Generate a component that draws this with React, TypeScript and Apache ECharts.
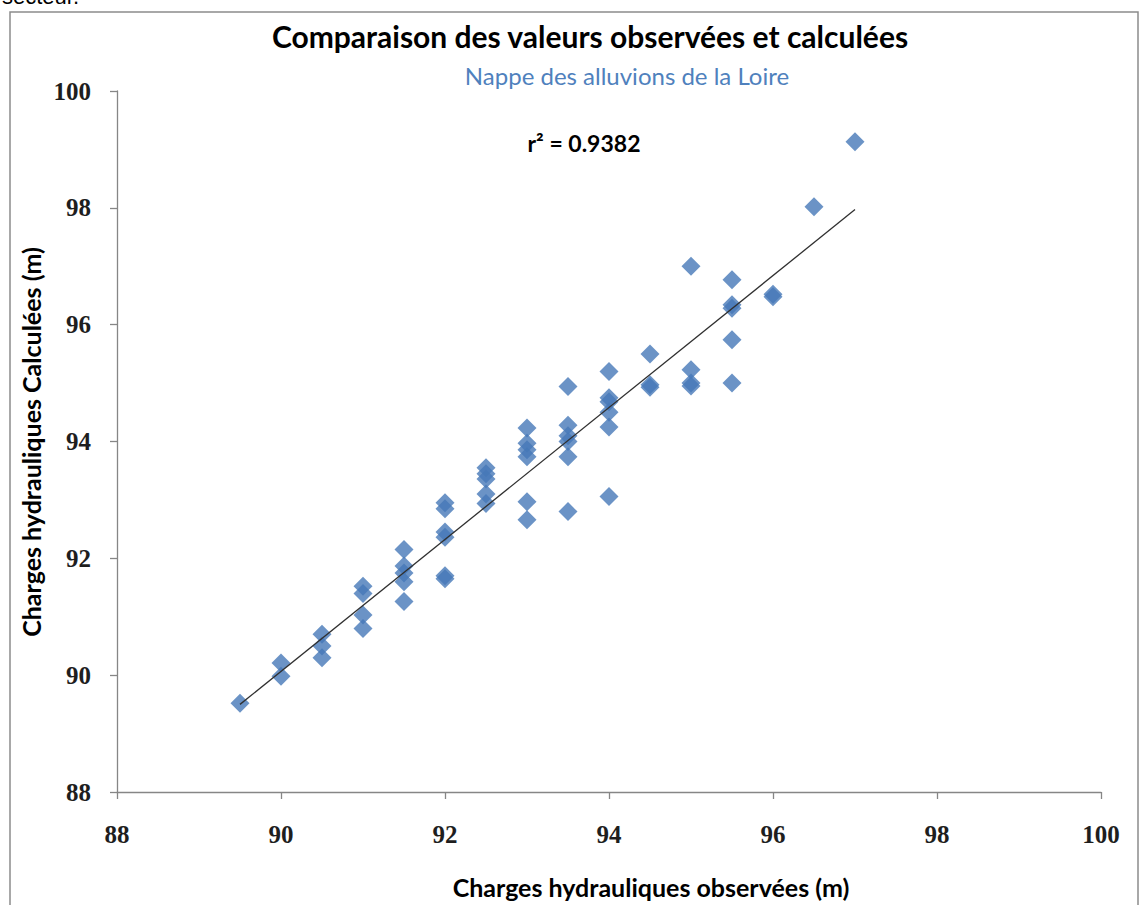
import React, { useEffect, useRef } from "react";
import * as echarts from "echarts";

const observed: number[] = [
  89.5,
  90, 90,
  90.5, 90.5, 90.5,
  91, 91, 91, 91,
  91.5, 91.5, 91.5, 91.5, 91.5,
  92, 92, 92, 92, 92, 92,
  92.5, 92.5, 92.5, 92.5, 92.5,
  93, 93, 93, 93, 93, 93,
  93.5, 93.5, 93.5, 93.5, 93.5, 93.5,
  94, 94, 94, 94, 94, 94,
  94.5, 94.5, 94.5,
  95, 95, 95, 95,
  95.5, 95.5, 95.5, 95.5, 95.5,
  96, 96,
  96.5,
  97,
];
const calculated: number[] = [
  89.52,
  90.21, 89.98,
  90.7, 90.5, 90.3,
  91.52, 91.4, 91.03, 90.8,
  92.15, 91.87, 91.75, 91.6, 91.26,
  92.95, 92.85, 92.45, 92.36, 91.7, 91.65,
  93.55, 93.45, 93.36, 93.1, 92.94,
  94.23, 93.97, 93.86, 93.74, 92.97, 92.66,
  94.94, 94.28, 94.1, 94.0, 93.74, 92.8,
  95.2, 94.75, 94.68, 94.5, 94.25, 93.06,
  95.5, 94.97, 94.93,
  97.0, 95.23, 95.0, 94.95,
  96.77, 96.34, 96.28, 95.74, 95.0,
  96.52, 96.48,
  98.02,
  99.13,
];
const trendX: number[] = [89.5, 97.0];
const trendY: number[] = [89.5, 97.97];

const axisMin = 88;
const axisMax = 100;
const axisStep = 2;

const titleText = "Comparaison des valeurs observées et calculées";
const subtitleText = "Nappe des alluvions de la Loire";
const r2Text = "r² = 0.9382";
const xName = "Charges hydrauliques observées (m)";
const yName = "Charges hydrauliques Calculées (m)";
const aboveText = "secteur.";

export default function App() {
  const ref = useRef<HTMLDivElement>(null);
  useEffect(() => {
    if (!ref.current) return;
    const chart = echarts.init(ref.current, undefined, { renderer: "svg" });
    const points = observed.map((x, i) => [x, calculated[i]]);
    const trend = trendX.map((x, i) => [x, trendY[i]]);
    const sans = "Lato, 'Open Sans', sans-serif";
    const serif = "'Liberation Serif', 'DejaVu Serif', serif";
    const axisCommon = {
      type: "value" as const,
      min: axisMin,
      max: axisMax,
      interval: axisStep,
      splitLine: { show: false },
      axisLine: { show: true, lineStyle: { color: "#868686", width: 1.3 } },
      axisTick: { show: true, inside: false, length: 7, lineStyle: { color: "#868686", width: 1.3 } },
    };
    chart.setOption({
      animation: false,
      backgroundColor: "#ffffff",
      grid: { left: 117, top: 91, width: 984, height: 701, containLabel: false },
      xAxis: {
        ...axisCommon,
        axisLabel: { color: "#1e1e1e", fontFamily: serif, fontWeight: "bold", fontSize: 25, margin: 30 },
      },
      yAxis: {
        ...axisCommon,
        axisLabel: { color: "#1e1e1e", fontFamily: serif, fontWeight: "bold", fontSize: 25, margin: 26 },
      },
      series: [
        {
          type: "scatter",
          data: points,
          symbol: "diamond",
          symbolSize: 19,
          itemStyle: { color: "#4678B8" },
          z: 2,
        },
        {
          type: "line",
          data: trend,
          symbol: "none",
          lineStyle: { color: "#303030", width: 1.3 },
          z: 3,
        },
      ],
      graphic: [
        {
          type: "rect",
          shape: { x: 10, y: 12, width: 1128, height: 910 },
          style: { fill: "none", stroke: "#8c8c8c", lineWidth: 1.5 },
          silent: true,
        },
        {
          type: "text",
          x: 2,
          y: -15,
          style: { text: aboveText, font: "22px 'Liberation Sans', Arial, sans-serif", fill: "#000" },
        },
        {
          type: "text",
          x: 590,
          y: 36,
          style: { text: titleText, font: `bold 30px ${sans}`, fill: "#000", align: "center", verticalAlign: "middle" },
        },
        {
          type: "text",
          x: 627,
          y: 75,
          style: { text: subtitleText, font: `24px ${sans}`, fill: "#4F81BD", align: "center", verticalAlign: "middle" },
        },
        {
          type: "text",
          x: 584,
          y: 143,
          style: { text: r2Text, font: `bold 23px ${sans}`, fill: "#000", align: "center", verticalAlign: "middle" },
        },
        {
          type: "text",
          x: 651,
          y: 887,
          style: { text: xName, font: `bold 25px ${sans}`, fill: "#000", align: "center", verticalAlign: "middle" },
        },
        {
          type: "text",
          x: 31,
          y: 442,
          rotation: Math.PI / 2,
          style: { text: yName, font: `bold 25px ${sans}`, fill: "#000", align: "center", verticalAlign: "middle" },
        },
      ],
    });
    return () => chart.dispose();
  }, []);
  return (
    <div
      ref={ref}
      style={{ position: "absolute", left: 0, top: 0, width: 1142, height: 905 }}
    />
  );
}
